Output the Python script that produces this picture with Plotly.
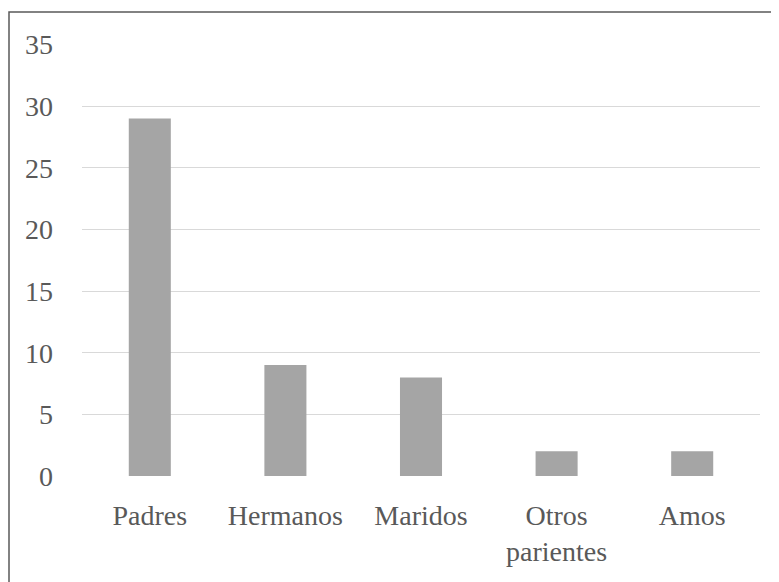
import plotly.graph_objects as go

categorias = ["Padres", "Hermanos", "Maridos", "Otros<br>parientes", "Amos"]
valores = [29, 9, 8, 2, 2]
ticks_y = [0, 5, 10, 15, 20, 25, 30, 35]

fig = go.Figure(go.Bar(
    x=categorias,
    y=valores,
    marker=dict(color="#A5A5A5", line=dict(width=0)),
))

# the page body adds an 8px offset, so the figure is drawn 8px smaller
W, H = 771, 574
L, R, T, B = 74, 19, 36, 106
pw, ph = W - L - R, H - T - B

fig.add_shape(
    type="rect", xref="paper", yref="paper",
    x0=(1 - L) / pw, x1=(800 - L) / pw,
    y0=(T + ph - 600) / ph, y1=(T + ph - 4) / ph,
    line=dict(color="#595959", width=1.5),
    fillcolor="rgba(0,0,0,0)", layer="below",
)

fig.update_layout(
    width=W, height=H,
    margin=dict(l=L, r=R, t=T, b=B),
    bargap=0.69,
    font=dict(family="'Liberation Serif', 'Times New Roman', serif", size=28, color="#595959"),
    plot_bgcolor="white",
    paper_bgcolor="white",
    showlegend=False,
    xaxis=dict(showgrid=False, showline=False, ticks="", ticklabelstandoff=20),
    yaxis=dict(
        range=[0, 35.05], tickvals=ticks_y, showgrid=True, gridcolor="#D9D9D9",
        gridwidth=1.3, zeroline=False, showline=False, ticks="",
        ticklabelstandoff=28,
    ),
)

fig.write_html("out.html")
